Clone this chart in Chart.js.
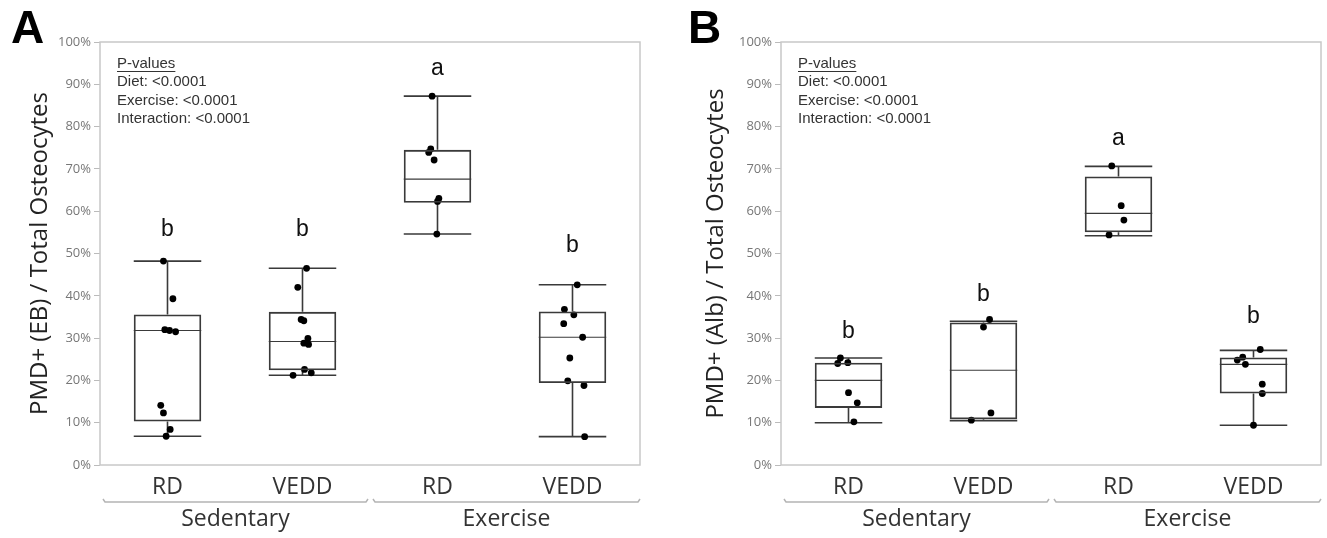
<!DOCTYPE html>
<html>
<head>
<meta charset="utf-8">
<script src="https://cdn.jsdelivr.net/npm/chart.js@4.4.0/dist/chart.umd.min.js"></script>
<style>
  html, body { margin: 0; padding: 0; background: #fff; }
  #wrap { position: relative; width: 1327px; height: 538px; }
  canvas { position: absolute; top: 0; }
  #chartA { left: 0; }
  #chartB { left: 663px; }
</style>
</head>
<body>
<div id="wrap">
  <canvas id="chartA" width="663" height="538"></canvas>
  <canvas id="chartB" width="664" height="538"></canvas>
</div>
<script>
// categories and groups
const categories = ["RD", "VEDD", "RD", "VEDD"];
const groups = ["Sedentary", "Exercise"];
const yTickValues = [0, 10, 20, 30, 40, 50, 60, 70, 80, 90, 100];
const yTickLabels = ["0%", "10%", "20%", "30%", "40%", "50%", "60%", "70%", "80%", "90%", "100%"];
const pValueLines = ["Diet: <0.0001", "Exercise: <0.0001", "Interaction: <0.0001"];

// panel A: PMD+ (EB)
const ebMin = [6.8, 21.2, 54.6, 6.7];
const ebQ1 = [10.3, 22.4, 62.0, 19.4];
const ebMedian = [31.8, 29.2, 67.6, 30.2];
const ebQ3 = [35.6, 36.2, 74.5, 36.3];
const ebMax = [48.2, 46.5, 87.2, 42.6];
const ebPoints = [
  [48.2, 39.3, 32.0, 31.8, 31.5, 14.1, 12.3, 8.4, 6.8],
  [46.5, 42.0, 34.4, 34.1, 29.9, 28.8, 28.5, 22.6, 21.8, 21.2],
  [87.2, 74.7, 73.9, 72.1, 63.0, 62.3, 54.6],
  [42.6, 36.8, 35.5, 33.4, 30.2, 25.3, 19.9, 18.8, 6.7]
];
const ebJitter = [
  [-0.03, 0.04, -0.02, 0.015, 0.06, -0.05, -0.03, 0.02, -0.01],
  [0.03, -0.035, -0.01, 0.01, 0.04, 0.01, 0.045, 0.015, 0.065, -0.07],
  [-0.04, -0.05, -0.065, -0.025, 0.01, 0.0, -0.005],
  [0.035, -0.06, 0.01, -0.065, 0.075, -0.02, -0.035, 0.085, 0.09]
];
const ebLetters = ["b", "b", "a", "b"];
const ebLetterY = [54.1, 54.1, 92.2, 50.4];

// panel B: PMD+ (Alb)
const albMin = [10.0, 10.5, 54.2, 9.4];
const albQ1 = [13.5, 10.8, 55.0, 16.9];
const albMedian = [20.0, 22.4, 59.5, 23.8];
const albQ3 = [24.2, 33.7, 68.2, 25.4];
const albMax = [25.3, 34.0, 70.6, 27.1];
const albPoints = [
  [25.3, 24.2, 24.0, 17.1, 14.7, 10.2],
  [34.4, 32.6, 12.3, 10.6],
  [70.7, 61.3, 57.9, 54.4],
  [27.3, 25.5, 24.8, 23.8, 19.1, 16.9, 9.4]
];
const albJitter = [
  [-0.06, -0.005, -0.08, 0, 0.065, 0.04],
  [0.045, 0, 0.055, -0.09],
  [-0.05, 0.02, 0.04, -0.07],
  [0.05, -0.08, -0.12, -0.06, 0.065, 0.065, 0]
];
const albLetters = ["b", "b", "a", "b"];
const albLetterY = [30.1, 38.8, 75.6, 33.6];

const boxColor = "#3a3a3a";

function extrasPlugin(o) {
  return {
    id: "boxExtras",
    beforeDatasetsDraw(chart) {
      const { ctx, scales: { y } } = chart;
      const meta = chart.getDatasetMeta(0);
      ctx.save();
      ctx.strokeStyle = boxColor;
      o.min.forEach((mn, i) => {
        const bar = meta.data[i].getProps(["x", "width"], true);
        const l = bar.x - bar.width / 2, r = bar.x + bar.width / 2;
        // whiskers
        ctx.lineWidth = 1.6;
        ctx.beginPath();
        ctx.moveTo(bar.x, y.getPixelForValue(o.q3[i]));
        ctx.lineTo(bar.x, y.getPixelForValue(o.max[i]));
        ctx.moveTo(bar.x, y.getPixelForValue(o.q1[i]));
        ctx.lineTo(bar.x, y.getPixelForValue(mn));
        // caps
        ctx.moveTo(l, y.getPixelForValue(o.max[i]));
        ctx.lineTo(r, y.getPixelForValue(o.max[i]));
        ctx.moveTo(l, y.getPixelForValue(mn));
        ctx.lineTo(r, y.getPixelForValue(mn));
        ctx.stroke();
        // median
        ctx.lineWidth = 1.2;
        ctx.beginPath();
        ctx.moveTo(l, y.getPixelForValue(o.median[i]));
        ctx.lineTo(r, y.getPixelForValue(o.median[i]));
        ctx.stroke();
      });
      ctx.restore();
    },
    afterDraw(chart) {
      const { ctx, chartArea: a, scales: { x, y } } = chart;
      ctx.save();
      // frame
      ctx.strokeStyle = "#c8c8c8";
      ctx.lineWidth = 1.5;
      ctx.strokeRect(a.left, a.top, a.right - a.left, a.bottom - a.top);

      // panel letter
      ctx.fillStyle = "#000";
      ctx.font = "bold 46px 'Liberation Sans', Arial, sans-serif";
      ctx.textAlign = "left";
      ctx.textBaseline = "alphabetic";
      ctx.fillText(o.panel, o.panelX, 43);

      // p-values
      ctx.fillStyle = "#333";
      ctx.font = "15px 'Liberation Sans', Arial, sans-serif";
      ctx.textBaseline = "middle";
      const px = a.left + 17;
      ctx.fillText("P-values", px, a.top + 22);
      const w = ctx.measureText("P-values").width;
      ctx.strokeStyle = "#333";
      ctx.lineWidth = 1;
      ctx.beginPath();
      ctx.moveTo(px, a.top + 29.5);
      ctx.lineTo(px + w, a.top + 29.5);
      ctx.stroke();
      pValueLines.forEach((t, k) => ctx.fillText(t, px, a.top + 40 + k * 18.5));

      // significance letters
      ctx.fillStyle = "#111";
      ctx.font = "23px 'Liberation Sans', Arial, sans-serif";
      ctx.textAlign = "center";
      ctx.textBaseline = "alphabetic";
      o.letters.forEach((t, i) => ctx.fillText(t, x.getPixelForValue(i), y.getPixelForValue(o.letterY[i])));

      // group brackets
      const mid = (x.getPixelForValue(1) + x.getPixelForValue(2)) / 2;
      const spans = [[a.left + 3, mid - 2], [mid + 3, a.right]];
      const by = a.bottom + 37;
      ctx.strokeStyle = "#b4b4b4";
      ctx.lineWidth = 1.5;
      ctx.fillStyle = "#333";
      ctx.font = "23px 'Open Sans', sans-serif";
      ctx.textBaseline = "middle";
      spans.forEach((s, g) => {
        ctx.beginPath();
        ctx.moveTo(s[0], by - 3);
        ctx.lineTo(s[0] + 2, by);
        ctx.lineTo(s[1] - 2, by);
        ctx.lineTo(s[1], by - 3);
        ctx.stroke();
        ctx.fillText(groups[g], (s[0] + s[1]) / 2, a.bottom + 54);
      });
      ctx.restore();
    }
  };
}

function makeChart(id, o) {
  const pts = [];
  o.points.forEach((vals, i) => vals.forEach((v, k) => pts.push({ x: i + o.jitter[i][k], y: v })));
  return new Chart(document.getElementById(id), {
    type: "bar",
    data: {
      labels: categories,
      datasets: [
        {
          type: "bar",
          data: o.q1.map((q, i) => [q, o.q3[i]]),
          backgroundColor: "rgba(0,0,0,0)",
          borderColor: boxColor,
          borderWidth: 1.8,
          borderSkipped: false,
          grouped: false,
          categoryPercentage: 1,
          barPercentage: 0.5,
          xAxisID: "x",
          yAxisID: "y"
        },
        {
          type: "scatter",
          data: pts,
          xAxisID: "xp",
          yAxisID: "y",
          pointRadius: 3.4,
          pointHoverRadius: 3.4,
          backgroundColor: "#000",
          borderWidth: 0
        }
      ]
    },
    options: {
      responsive: false,
      animation: false,
      layout: { padding: { top: 42, right: o.padRight, left: 0, bottom: 0 } },
      plugins: { legend: { display: false }, tooltip: { enabled: false } },
      scales: {
        x: {
          type: "category",
          offset: true,
          grid: { display: false },
          border: { display: false },
          ticks: { color: "#333", font: { family: "Open Sans", size: 23 }, padding: 1, maxRotation: 0 },
          afterFit(s) { s.height = 73; }
        },
        xp: { type: "linear", display: false, offset: false, min: -0.5, max: 3.5 },
        y: {
          min: 0,
          max: 100,
          afterBuildTicks(s) { s.ticks = yTickValues.map(v => ({ value: v })); },
          ticks: {
            callback: (v, i) => yTickLabels[i],
            color: "#777",
            font: { family: "Open Sans", size: 13 },
            padding: 3
          },
          grid: { drawOnChartArea: false, color: "#bbb", tickLength: 6 },
          border: { display: false },
          title: {
            display: true,
            text: o.yTitle,
            color: "#222",
            font: { family: "Open Sans", size: 24 },
            padding: { top: o.titlePad, bottom: 0 }
          },
          afterFit(s) { s.width = o.yWidth; }
        }
      }
    },
    plugins: [extrasPlugin(o)]
  });
}

makeChart("chartA", {
  panel: "A", panelX: 11, yTitle: "PMD+ (EB) / Total Osteocytes",
  yWidth: 100, padRight: 23, titlePad: 26,
  min: ebMin, q1: ebQ1, median: ebMedian, q3: ebQ3, max: ebMax,
  points: ebPoints, jitter: ebJitter, letters: ebLetters, letterY: ebLetterY
});

makeChart("chartB", {
  panel: "B", panelX: 25, yTitle: "PMD+ (Alb) / Total Osteocytes",
  yWidth: 118, padRight: 6, titlePad: 39,
  min: albMin, q1: albQ1, median: albMedian, q3: albQ3, max: albMax,
  points: albPoints, jitter: albJitter, letters: albLetters, letterY: albLetterY
});
</script>
</body>
</html>
